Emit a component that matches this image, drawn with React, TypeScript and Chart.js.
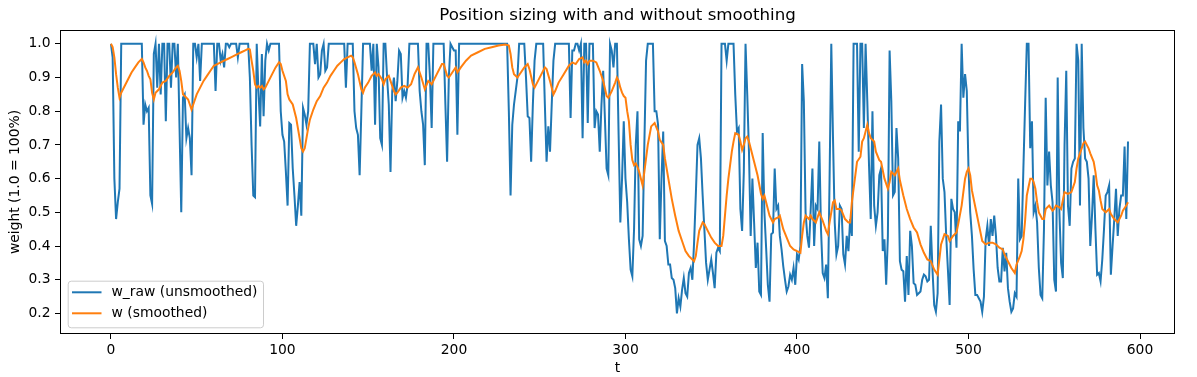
import React, { useEffect, useRef } from "react";
import { Chart, registerables } from "chart.js";

Chart.register(...registerables);

const TITLE = "Position sizing with and without smoothing";
const X_LABEL = "t";
const Y_LABEL = "weight (1.0 = 100%)";
const RAW_LABEL = "w_raw (unsmoothed)";
const SMOOTH_LABEL = "w (smoothed)";

const X_TICKS = [0, 100, 200, 300, 400, 500, 600];
const Y_TICKS = [0.2, 0.3, 0.4, 0.5, 0.6, 0.7, 0.8, 0.9, 1.0];

// raw weight, one value per t = 0 .. 593
const rawW: number[] = [
  1.0, 0.96, 0.60, 0.48, 0.53, 0.57, 1.0, 1.0, 1.0, 1.0,
  1.0, 1.0, 1.0, 1.0, 1.0, 1.0, 1.0, 1.0, 1.0, 0.76,
  0.82, 0.80, 0.81, 0.55, 0.525, 0.97, 1.0, 0.87, 1.0, 0.85,
  1.0, 1.0, 0.77, 1.0, 1.0, 0.87, 1.0, 1.0, 0.90, 1.0,
  0.75, 0.50, 0.84, 0.85, 0.72, 0.75, 0.72, 0.61, 1.0, 1.0,
  0.96, 1.0, 0.89, 1.0, 1.0, 1.0, 1.0, 1.0, 1.0, 1.0,
  1.0, 0.86, 1.0, 1.0, 0.95, 0.97, 0.93, 1.0, 1.0, 0.99,
  1.0, 1.0, 1.0, 1.0, 0.96, 1.0, 1.0, 1.0, 1.0, 1.0,
  1.0, 0.90, 0.70, 0.55, 0.545, 1.0, 0.86, 0.755, 0.97, 0.785,
  0.95, 1.0, 0.98, 1.0, 1.0, 1.0, 1.0, 1.0, 1.0, 0.80,
  0.73, 0.71, 0.62, 0.52, 0.765, 0.76, 0.63, 0.55, 0.46, 0.52,
  0.59, 0.49, 0.81, 0.79, 0.76, 0.80, 1.0, 1.0, 1.0, 0.94,
  1.0, 0.90, 0.91, 0.98, 1.0, 0.92, 0.93, 1.0, 1.0, 1.0,
  1.0, 1.0, 1.0, 1.0, 1.0, 1.0, 1.0, 0.87, 1.0, 1.0,
  1.0, 1.0, 0.80, 0.75, 0.73, 0.61, 0.80, 1.0, 1.0, 1.0,
  1.0, 1.0, 0.92, 1.0, 0.76, 1.0, 0.93, 0.72, 0.70, 1.0,
  1.0, 0.90, 0.82, 0.62, 0.86, 0.90, 0.83, 0.89, 0.98, 0.97,
  0.84, 0.86, 0.84, 0.88, 1.0, 1.0, 1.0, 1.0, 1.0, 1.0,
  0.86, 0.80, 0.76, 0.64, 1.0, 1.0, 0.90, 0.75, 1.0, 1.0,
  1.0, 1.0, 1.0, 1.0, 1.0, 0.82, 0.65, 0.90, 1.0, 0.99,
  0.98, 0.98, 0.73, 1.0, 1.0, 1.0, 1.0, 1.0, 1.0, 1.0,
  1.0, 1.0, 1.0, 1.0, 1.0, 1.0, 1.0, 1.0, 1.0, 1.0,
  1.0, 1.0, 1.0, 1.0, 1.0, 1.0, 1.0, 1.0, 1.0, 1.0,
  1.0, 1.0, 0.80, 0.55, 0.76, 0.82, 0.86, 0.90, 1.0, 1.0,
  1.0, 1.0, 0.90, 0.785, 0.78, 0.65, 0.82, 0.95, 1.0, 1.0,
  1.0, 1.0, 1.0, 0.82, 0.65, 0.755, 0.68, 0.82, 0.95, 1.0,
  1.0, 1.0, 1.0, 1.0, 1.0, 1.0, 1.0, 1.0, 0.78, 0.98,
  0.98, 1.0, 1.0, 0.98, 1.0, 0.72, 1.0, 1.0, 0.765, 1.0,
  1.0, 1.0, 0.75, 0.80, 0.79, 0.68, 0.82, 0.92, 0.78, 0.63,
  0.61, 1.0, 0.98, 0.93, 1.0, 1.0, 0.73, 0.47, 0.60, 0.77,
  0.60, 0.53, 0.42, 0.33, 0.31, 0.45, 0.70, 0.80, 0.42, 0.40,
  0.43, 0.70, 0.95, 1.0, 1.0, 1.0, 1.0, 0.80, 0.80, 0.76,
  0.42, 0.60, 0.74, 0.415, 0.40, 0.345, 0.345, 0.305, 0.30, 0.275,
  0.20, 0.245, 0.22, 0.27, 0.305, 0.26, 0.25, 0.32, 0.335, 0.30,
  0.41, 0.55, 0.70, 0.72, 0.66, 0.55, 0.45, 0.35, 0.30, 0.33,
  0.36, 0.32, 0.275, 0.38, 0.395, 0.385, 1.0, 1.0, 1.0, 0.95,
  1.0, 1.0, 1.0, 1.0, 0.85, 0.74, 0.75, 0.51, 0.445, 0.62,
  1.0, 0.85, 0.68, 0.43, 0.60, 0.47, 0.335, 0.41, 0.265, 0.255,
  0.735, 0.50, 0.395, 0.285, 0.235, 0.435, 0.44, 0.63, 0.51, 0.52,
  0.43, 0.39, 0.34, 0.30, 0.265, 0.28, 0.315, 0.30, 0.335, 0.285,
  0.375, 0.36, 0.40, 0.94, 0.83, 0.50, 0.43, 0.395, 0.51, 0.63,
  0.40, 0.52, 0.51, 0.71, 0.45, 0.32, 0.305, 0.345, 0.245, 0.60,
  1.0, 0.72, 0.47, 0.375, 0.40, 0.52, 0.51, 0.375, 0.345, 0.43,
  0.385, 0.48, 0.43, 1.0, 1.0, 1.0, 0.68, 1.0, 1.0, 0.75,
  1.0, 0.83, 0.64, 0.48, 0.80, 0.52, 0.46, 0.50, 0.61, 0.63,
  0.385, 0.42, 0.285, 0.43, 0.98, 0.83, 0.55, 0.56, 0.75, 0.66,
  0.355, 0.33, 0.325, 0.235, 0.37, 0.255, 0.445, 0.40, 0.29, 0.285,
  0.255, 0.26, 0.265, 0.30, 0.315, 0.31, 0.295, 0.30, 0.46, 0.33,
  0.225, 0.205, 0.26, 0.71, 0.82, 0.60, 0.56, 0.43, 0.33, 0.225,
  0.54, 0.51, 0.50, 0.395, 0.77, 0.74, 1.0, 0.84, 0.91, 0.86,
  0.63, 0.50, 0.43, 0.33, 0.255, 0.255, 0.245, 0.235, 0.205, 0.25,
  0.42, 0.46, 0.40, 0.48, 0.43, 0.49, 0.43, 0.335, 0.295, 0.295,
  0.395, 0.325, 0.38, 0.275, 0.235, 0.205, 0.215, 0.26, 0.25, 0.60,
  0.42, 0.43, 0.63, 0.82, 1.0, 1.0, 0.69, 0.77, 0.50, 0.52,
  0.47, 0.335, 0.255, 0.245, 0.45, 0.84, 0.58, 0.68, 0.58, 0.53,
  0.30, 0.265, 0.90, 0.50, 0.35, 0.305, 0.70, 0.92, 0.52, 0.46,
  0.63, 0.65, 0.66, 1.0, 0.95, 0.52, 1.0, 0.75, 0.66, 0.65,
  0.60, 0.40, 0.49, 0.61, 0.45, 0.315, 0.32, 0.295, 0.36, 0.45,
  0.55, 0.56, 0.58, 0.315, 0.40, 0.48, 0.57, 0.43, 0.51, 0.55,
  0.55, 0.695, 0.48, 0.71,
];

// smoothed weight, read at these t values
const smoothT: number[] = [
  0, 1, 2, 3, 4, 5, 6, 8, 10, 12,
  14, 16, 18, 19, 20, 21, 22, 23, 24, 25,
  26, 28, 30, 32, 34, 36, 38, 39, 40, 41,
  42, 43, 44, 45, 46, 47, 48, 50, 52, 54,
  56, 58, 60, 62, 64, 66, 68, 70, 72, 74,
  76, 78, 80, 81, 82, 83, 84, 85, 86, 87,
  88, 89, 90, 92, 94, 96, 98, 99, 100, 102,
  103, 104, 106, 108, 110, 111, 112, 113, 114, 115,
  116, 118, 120, 122, 124, 126, 128, 130, 132, 134,
  136, 138, 140, 141, 142, 144, 146, 147, 148, 150,
  152, 154, 155, 156, 158, 159, 160, 162, 163, 165,
  166, 167, 169, 171, 173, 175, 177, 178, 179, 181,
  183, 185, 187, 190, 193, 194, 196, 197, 199, 201,
  202, 204, 207, 210, 214, 218, 222, 226, 230, 232,
  233, 234, 235, 237, 239, 241, 243, 244, 246, 247,
  249, 251, 253, 254, 256, 258, 259, 261, 264, 267,
  269, 271, 273, 275, 276, 277, 278, 279, 281, 283,
  285, 287, 289, 290, 292, 294, 295, 296, 297, 298,
  299, 300, 301, 302, 303, 304, 305, 306, 307, 308,
  309, 310, 311, 312, 313, 315, 317, 319, 320, 322,
  323, 325, 327, 329, 331, 333, 335, 337, 339, 340,
  341, 342, 343, 345, 346, 348, 350, 352, 354, 356,
  357, 358, 359, 360, 361, 362, 363, 364, 366, 367,
  368, 369, 370, 371, 372, 373, 375, 377, 379, 380,
  381, 382, 384, 386, 387, 389, 390, 392, 394, 396,
  398, 400, 402, 403, 404, 405, 407, 408, 409, 411,
  413, 415, 417, 418, 419, 420, 421, 422, 423, 425,
  426, 428, 430, 431, 432, 433, 434, 435, 437, 438,
  439, 440, 441, 442, 443, 445, 446, 448, 449, 451,
  453, 454, 455, 457, 459, 460, 462, 464, 466, 468,
  470, 472, 474, 476, 478, 480, 482, 483, 484, 486,
  488, 489, 491, 493, 494, 496, 497, 498, 499, 500,
  501, 502, 504, 506, 508, 510, 512, 514, 516, 518,
  520, 521, 523, 525, 527, 528, 530, 531, 532, 533,
  534, 535, 536, 537, 538, 539, 540, 541, 543, 544,
  545, 547, 549, 550, 551, 553, 554, 555, 556, 558,
  560, 562, 563, 564, 565, 567, 568, 570, 571, 573,
  574, 575, 576, 577, 578, 580, 582, 583, 585, 587,
  589, 590, 592, 593,
];

const smoothW: number[] = [
  1.0, 0.99, 0.96, 0.91, 0.87, 0.84, 0.855, 0.875, 0.895, 0.915,
  0.93, 0.945, 0.955, 0.945, 0.93, 0.92, 0.905, 0.895, 0.855, 0.835,
  0.855, 0.865, 0.885, 0.89, 0.905, 0.915, 0.93, 0.935, 0.92, 0.89,
  0.85, 0.845, 0.84, 0.835, 0.82, 0.805, 0.82, 0.85, 0.87, 0.89,
  0.905, 0.92, 0.935, 0.94, 0.945, 0.95, 0.955, 0.96, 0.965, 0.97,
  0.975, 0.98, 0.985, 0.983, 0.95, 0.92, 0.88, 0.87, 0.875, 0.87,
  0.875, 0.865, 0.87, 0.89, 0.91, 0.93, 0.945, 0.94, 0.92, 0.89,
  0.85, 0.835, 0.82, 0.78, 0.72, 0.69, 0.68, 0.69, 0.72, 0.75,
  0.775, 0.805, 0.83, 0.845, 0.87, 0.885, 0.905, 0.92, 0.935, 0.945,
  0.955, 0.96, 0.965, 0.96, 0.945, 0.91, 0.865, 0.855, 0.87, 0.885,
  0.905, 0.915, 0.905, 0.91, 0.895, 0.88, 0.895, 0.905, 0.89, 0.86,
  0.85, 0.855, 0.87, 0.875, 0.87, 0.88, 0.91, 0.92, 0.93, 0.90,
  0.865, 0.89, 0.88, 0.91, 0.94, 0.94, 0.905, 0.90, 0.915, 0.93,
  0.915, 0.93, 0.95, 0.965, 0.975, 0.985, 0.99, 0.995, 0.998, 0.995,
  0.97, 0.93, 0.91, 0.90, 0.915, 0.93, 0.94, 0.925, 0.88, 0.87,
  0.89, 0.91, 0.93, 0.925, 0.89, 0.85, 0.86, 0.885, 0.91, 0.935,
  0.945, 0.94, 0.955, 0.96, 0.945, 0.95, 0.94, 0.95, 0.95, 0.945,
  0.92, 0.89, 0.845, 0.84, 0.86, 0.885, 0.90, 0.89, 0.87, 0.855,
  0.845, 0.84, 0.80, 0.77, 0.70, 0.655, 0.64, 0.645, 0.635, 0.62,
  0.60, 0.58, 0.62, 0.66, 0.70, 0.755, 0.765, 0.74, 0.715, 0.70,
  0.66, 0.60, 0.54, 0.49, 0.445, 0.415, 0.385, 0.37, 0.36, 0.355,
  0.37, 0.41, 0.445, 0.47, 0.465, 0.445, 0.425, 0.41, 0.40, 0.40,
  0.43, 0.49, 0.55, 0.60, 0.64, 0.68, 0.71, 0.735, 0.73, 0.71,
  0.685, 0.70, 0.72, 0.725, 0.71, 0.69, 0.65, 0.61, 0.555, 0.54,
  0.55, 0.53, 0.49, 0.47, 0.48, 0.485, 0.49, 0.45, 0.425, 0.40,
  0.39, 0.385, 0.38, 0.43, 0.47, 0.49, 0.48, 0.49, 0.48, 0.47,
  0.50, 0.475, 0.445, 0.435, 0.47, 0.50, 0.53, 0.535, 0.51, 0.51,
  0.505, 0.48, 0.47, 0.47, 0.53, 0.57, 0.61, 0.65, 0.665, 0.71,
  0.72, 0.74, 0.76, 0.735, 0.72, 0.71, 0.68, 0.655, 0.65, 0.60,
  0.57, 0.59, 0.62, 0.61, 0.63, 0.595, 0.55, 0.51, 0.48, 0.455,
  0.44, 0.405, 0.38, 0.36, 0.355, 0.33, 0.315, 0.36, 0.405, 0.435,
  0.43, 0.415, 0.43, 0.44, 0.465, 0.52, 0.56, 0.60, 0.62, 0.63,
  0.61, 0.565, 0.515, 0.465, 0.415, 0.405, 0.41, 0.41, 0.405, 0.395,
  0.39, 0.375, 0.355, 0.335, 0.32, 0.345, 0.37, 0.385, 0.42, 0.475,
  0.55, 0.575, 0.60, 0.60, 0.59, 0.57, 0.53, 0.50, 0.48, 0.48,
  0.51, 0.52, 0.505, 0.51, 0.52, 0.515, 0.51, 0.535, 0.56, 0.555,
  0.56, 0.59, 0.63, 0.66, 0.675, 0.705, 0.71, 0.69, 0.675, 0.65,
  0.62, 0.58, 0.565, 0.535, 0.51, 0.50, 0.51, 0.495, 0.48, 0.47,
  0.49, 0.505, 0.52, 0.53,
];

const FONT = "'DejaVu Sans', 'Liberation Sans', sans-serif";
const BLUE = "#1f77b4";
const ORANGE = "#ff7f0e";
const TICK_FONT = { family: FONT, size: 13.89 };

export default function App() {
  const ref = useRef<HTMLCanvasElement>(null);

  useEffect(() => {
    document.body.style.margin = "0";
    const canvas = ref.current;
    if (!canvas) return;

    const frameAndLegend = {
      id: "frameAndLegend",
      afterDraw(chart: any) {
        const { ctx, chartArea } = chart;
        const { left, top, right, bottom } = chartArea;
        ctx.save();
        ctx.strokeStyle = "#000";
        ctx.lineWidth = 1;
        ctx.strokeRect(Math.round(left) + 0.5, Math.round(top) + 0.5,
          Math.round(right - left) - 1, Math.round(bottom - top) - 1);

        // legend box (lower left, inside axes)
        const bx = left + 7.7;
        const by = bottom - 53.3;
        const bw = 195.3;
        const bh = 46.6;
        ctx.beginPath();
        ctx.roundRect(bx + 0.5, by + 0.5, bw, bh, 3);
        ctx.fillStyle = "rgba(255,255,255,0.8)";
        ctx.fill();
        ctx.strokeStyle = "#cccccc";
        ctx.lineWidth = 1;
        ctx.stroke();

        const rows = [
          { label: RAW_LABEL, color: BLUE, y: bottom - 41.7 },
          { label: SMOOTH_LABEL, color: ORANGE, y: bottom - 20.7 },
        ];
        ctx.font = `13.89px ${FONT}`;
        ctx.textBaseline = "middle";
        ctx.textAlign = "left";
        for (const r of rows) {
          ctx.beginPath();
          ctx.moveTo(left + 12, r.y);
          ctx.lineTo(left + 41.5, r.y);
          ctx.strokeStyle = r.color;
          ctx.lineWidth = 2;
          ctx.stroke();
          ctx.fillStyle = "#000";
          ctx.fillText(r.label, left + 51.5, r.y + 0.5);
        }
        ctx.restore();
      },
    };

    const chart = new Chart(canvas, {
      type: "line",
      data: {
        datasets: [
          {
            label: RAW_LABEL,
            data: rawW.map((y, i) => ({ x: i, y })),
            borderColor: BLUE,
            backgroundColor: BLUE,
            borderWidth: 2,
            pointRadius: 0,
            tension: 0,
            fill: false,
            order: 2,
          },
          {
            label: SMOOTH_LABEL,
            data: smoothT.map((x, i) => ({ x, y: smoothW[i] })),
            borderColor: ORANGE,
            backgroundColor: ORANGE,
            borderWidth: 2,
            pointRadius: 0,
            tension: 0,
            fill: false,
            order: 1,
          },
        ],
      },
      options: {
        responsive: false,
        animation: false,
        devicePixelRatio: 1,
        layout: { padding: { left: 0, right: 22, top: 0, bottom: 0 } },
        plugins: {
          legend: { display: false },
          tooltip: { enabled: false },
          title: {
            display: true,
            text: TITLE,
            color: "#000",
            fullSize: false,
            font: { family: FONT, size: 16.67, weight: "normal", lineHeight: 1.2 },
            padding: { top: 5.5, bottom: 4.5 },
          },
        },
        scales: {
          x: {
            type: "linear",
            bounds: "data",
            min: -29.7,
            max: 620.4,
            afterBuildTicks: (s: any) => {
              s.ticks = X_TICKS.map((v) => ({ value: v }));
            },
            afterFit: (s: any) => {
              s.height = 43;
            },
            ticks: {
              color: "#000",
              font: TICK_FONT,
              padding: 3,
              maxRotation: 0,
              autoSkip: false,
              callback: (v: any) => String(v),
            },
            grid: {
              drawOnChartArea: false,
              drawTicks: true,
              tickLength: 5,
              tickColor: "#000",
              tickWidth: 1,
            },
            border: { display: false },
            title: {
              display: true,
              text: X_LABEL,
              color: "#000",
              font: TICK_FONT,
              padding: { top: 0, bottom: 0 },
            },
          },
          y: {
            type: "linear",
            bounds: "data",
            min: 0.139,
            max: 1.041,
            afterBuildTicks: (s: any) => {
              s.ticks = Y_TICKS.map((v) => ({ value: v }));
            },
            afterFit: (s: any) => {
              s.width = 60;
            },
            ticks: {
              color: "#000",
              font: TICK_FONT,
              padding: 4.5,
              autoSkip: false,
              callback: (v: any) => Number(v).toFixed(1),
            },
            grid: {
              drawOnChartArea: false,
              drawTicks: true,
              tickLength: 5,
              tickColor: "#000",
              tickWidth: 1,
            },
            border: { display: false },
            title: {
              display: true,
              text: Y_LABEL,
              color: "#000",
              font: TICK_FONT,
              padding: { top: 6.7, bottom: 0 },
            },
          },
        },
      },
      plugins: [frameAndLegend],
    } as any);

    return () => chart.destroy();
  }, []);

  return (
    <div style={{ width: 1197, height: 377 }}>
      <canvas ref={ref} width={1197} height={377} style={{ display: "block", width: 1197, height: 377 }} />
    </div>
  );
}
